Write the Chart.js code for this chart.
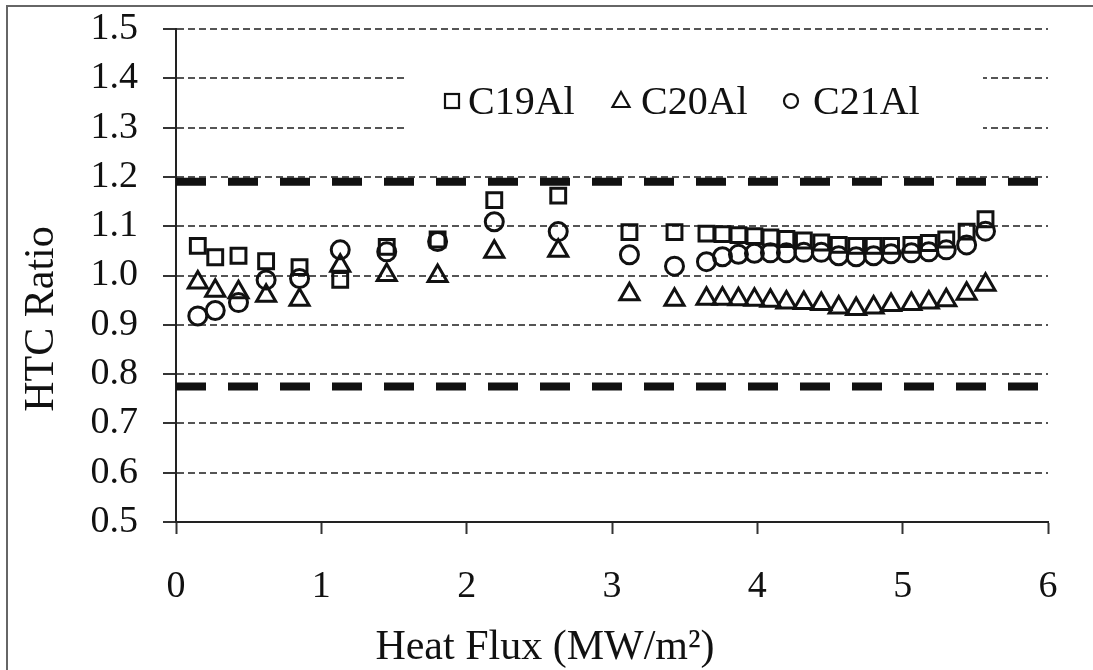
<!DOCTYPE html>
<html>
<head>
<meta charset="utf-8">
<script src="https://cdn.jsdelivr.net/npm/chart.js@4.4.0/dist/chart.umd.min.js"></script>
<style>
  html, body { margin: 0; padding: 0; background: #fff; }
  #wrap { width: 1093px; height: 670px; position: relative; }
</style>
</head>
<body>
<div id="wrap"><canvas id="chartHTC"></canvas></div>
<script>
// ===== DATOS =====
const heatFlux = [0.15, 0.27, 0.43, 0.62, 0.85, 1.13, 1.45, 1.80, 2.19, 2.63, 3.12, 3.43,
    3.65, 3.76, 3.87, 3.98, 4.09, 4.20, 4.32, 4.44, 4.56, 4.68, 4.80,
    4.92, 5.06, 5.18, 5.30, 5.44, 5.57];
const c19Al = [1.060, 1.037, 1.040, 1.029, 1.017, 0.991, 1.058, 1.073, 1.153, 1.162, 1.088, 1.088,
    1.085, 1.084, 1.082, 1.080, 1.077, 1.074, 1.071, 1.067, 1.062, 1.060, 1.060,
    1.060, 1.062, 1.066, 1.073, 1.089, 1.114];
const c20Al = [0.986, 0.969, 0.966, 0.959, 0.951, 1.020, 1.001, 0.999, 1.048, 1.050, 0.962, 0.951,
    0.953, 0.953, 0.952, 0.951, 0.949, 0.945, 0.944, 0.942, 0.935, 0.932, 0.935,
    0.940, 0.942, 0.945, 0.950, 0.963, 0.981];
const c21Al = [0.918, 0.929, 0.945, 0.991, 0.994, 1.052, 1.048, 1.069, 1.109, 1.089, 1.042, 1.019,
    1.028, 1.038, 1.043, 1.045, 1.046, 1.046, 1.047, 1.047, 1.040, 1.038, 1.040,
    1.044, 1.046, 1.048, 1.052, 1.062, 1.090];
const seriesNames = ["C19Al", "C20Al", "C21Al"];
const limitUpper = 1.19;
const limitLower = 0.775;
const xRange = [0, 6];
const yRange = [0.5, 1.5];

// ===== ESTILO =====
const serif = "'Liberation Serif', 'Times New Roman', serif";
const ink = "#111";
Chart.defaults.font.family = serif;
Chart.defaults.color = ink;

const toPoints = ys => heatFlux.map((x, i) => ({ x: x, y: ys[i] }));
const limitLine = v => xRange.map(x => ({ x: x, y: v }));

function markerSet(name, values, style, radius) {
    return {
        label: name,
        data: toPoints(values),
        pointStyle: style,
        pointRadius: radius,
        pointHoverRadius: radius,
        pointBorderWidth: 3,
        borderColor: ink,
        backgroundColor: "rgba(0,0,0,0)",
        showLine: false
    };
}

function limitSet(v) {
    return {
        label: "limit",
        data: limitLine(v),
        showLine: true,
        borderColor: ink,
        borderWidth: 8,
        borderDash: [30, 22],
        pointRadius: 0,
        fill: false
    };
}

// leyenda dentro del area del grafico + titulos de ejes + marco
const decor = {
    id: "decor",
    beforeDraw(chart) {
        const ctx = chart.ctx;
        ctx.save();
        ctx.fillStyle = "#fff";
        ctx.fillRect(0, 0, chart.width, chart.height);
        ctx.strokeStyle = "#666";
        ctx.lineWidth = 2;
        ctx.beginPath();
        ctx.moveTo(7, chart.height);
        ctx.lineTo(7, 6);
        ctx.lineTo(chart.width, 6);
        ctx.stroke();
        ctx.restore();
    },
    afterDraw(chart) {
        const ctx = chart.ctx;
        ctx.save();
        // caja blanca de la leyenda
        ctx.fillStyle = "#fff";
        ctx.fillRect(405, 55, 578, 95);

        ctx.strokeStyle = ink;
        ctx.lineWidth = 2.2;
        const cy = 101;
        // cuadrado
        ctx.strokeRect(452 - 7, cy - 7, 14, 14);
        // triangulo
        ctx.beginPath();
        ctx.moveTo(621, cy - 9);
        ctx.lineTo(621 + 8.5, cy + 6);
        ctx.lineTo(621 - 8.5, cy + 6);
        ctx.closePath();
        ctx.stroke();
        // circulo
        ctx.beginPath();
        ctx.arc(791, cy, 7, 0, Math.PI * 2);
        ctx.stroke();

        ctx.fillStyle = ink;
        ctx.font = "40px " + serif;
        ctx.textBaseline = "middle";
        ctx.textAlign = "left";
        ctx.fillText(seriesNames[0], 468, cy + 2);
        ctx.fillText(seriesNames[1], 641, cy + 2);
        ctx.fillText(seriesNames[2], 813, cy + 2);

        // titulos de ejes
        ctx.font = "42px " + serif;
        ctx.textAlign = "center";
        ctx.fillText("Heat Flux (MW/m²)", 545, 648);
        ctx.translate(40, 319);
        ctx.rotate(-Math.PI / 2);
        ctx.fillText("HTC Ratio", 0, 2);
        ctx.restore();
    }
};

new Chart(document.getElementById("chartHTC"), {
    type: "scatter",
    data: {
        datasets: [
            markerSet(seriesNames[0], c19Al, "rect", 10.5),
            markerSet(seriesNames[1], c20Al, "triangle", 11),
            markerSet(seriesNames[2], c21Al, "circle", 9),
            limitSet(limitUpper),
            limitSet(limitLower)
        ]
    },
    options: {
        responsive: true,
        maintainAspectRatio: false,
        animation: false,
        layout: { padding: { top: 29, right: 45, left: 0, bottom: 0 } },
        plugins: {
            legend: { display: false },
            tooltip: { enabled: false }
        },
        scales: {
            x: {
                type: "linear",
                min: xRange[0],
                max: xRange[1],
                ticks: { stepSize: 1, padding: 30, font: { size: 38 }, color: ink, autoSkip: false },
                grid: {
                    drawOnChartArea: false,
                    tickLength: 12,
                    tickColor: "#333",
                    tickWidth: 2
                },
                border: { color: "#222", width: 2 },
                afterFit(scale) { scale.height = 148; }
            },
            y: {
                min: yRange[0],
                max: yRange[1],
                ticks: {
                    stepSize: 0.1,
                    padding: 25,
                    autoSkip: false,
                    font: { size: 38 },
                    color: ink,
                    callback: v => v.toFixed(1)
                },
                grid: {
                    color: "#555",
                    lineWidth: 2,
                    tickLength: 13,
                    tickColor: "#333",
                    tickWidth: 2,
                    tickBorderDash: []
                },
                border: { color: "#222", width: 2, dash: [7, 4] },
                afterFit(scale) {
                    scale.width = 176;
                    scale.paddingTop = 0;
                    scale.paddingBottom = 0;
                }
            }
        }
    },
    plugins: [decor]
});
</script>
</body>
</html>
